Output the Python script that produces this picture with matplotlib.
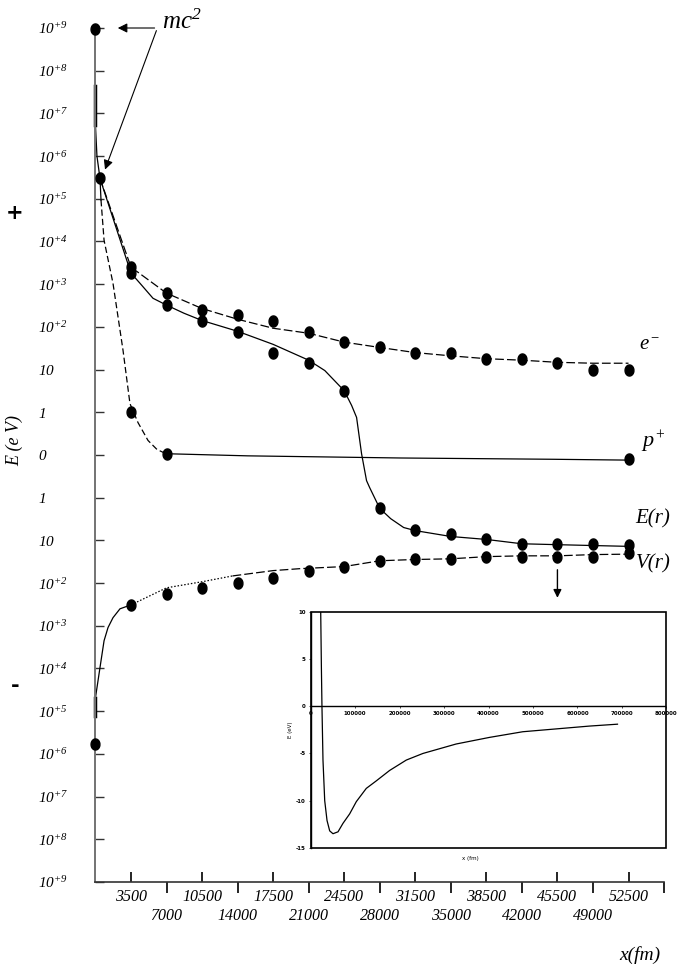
import numpy as np
import matplotlib
matplotlib.use('Agg')
import matplotlib.pyplot as plt
from matplotlib.patches import Rectangle
from matplotlib.ticker import NullLocator

plt.rcParams['font.family'] = 'Liberation Serif'
plt.rcParams['mathtext.fontset'] = 'custom'
plt.rcParams['mathtext.rm'] = 'Liberation Serif:italic'
plt.rcParams['mathtext.it'] = 'Liberation Serif:italic'

# distances in fm, energies in eV (signed)
r_pts = [3500, 7000, 10500, 14000, 17500, 21000, 24500, 28000,
         31500, 35000, 38500, 42000, 45500, 49000, 52500]
e_pts = [2500, 617, 245, 186, 135, 74, 44, 33, 24, 24, 18, 18, 14, 10, 10]
E_pts = [1820, 320, 135, 74, 24, 14, 3.2, -1.78, -5.6, -7.2, -9.5, -12, -12, -12, -13]
V_pts = [-324, -178, -129, -98, -74, -51, -41, -30, -28, -28, -24, -24, -24, -24, -20]
p_r = [3500, 7000, 52500]
p_pts = [1.0, 0.03, -0.1]

# rest mass points on the axis
mc2_r = [0, 450, 0]
mc2_E = [9.38e8, 3.0e5, -6.0e5]

# fitted curves
e_line_r = [450, 3500, 7000, 10500, 14000, 17500, 21000, 24500, 28000,
            31500, 35000, 38500, 42000, 45500, 49000, 52500]
e_line_E = [3.0e5, 2510, 617, 269, 151, 93, 71, 44, 33, 25, 21, 18, 16.6,
            14.8, 14.1, 14.1]

E_line_r = [450, 3500, 4390, 5670, 7000, 8720, 10500, 14000, 17500, 21000,
            22590, 24500, 25230, 25720, 26210, 26700, 27000, 28000, 29080,
            30360, 31500, 35000, 38500, 42000, 45500, 49000, 52500]
E_line_E = [3.0e5, 1820, 1050, 468, 324, 209, 141, 79, 39, 16.6, 9.5, 3.2,
            1.45, 0.88, 0.03, -0.6, -0.76, -1.78, -3.1, -5.0, -5.9, -8.1,
            -9.5, -12, -12.6, -13.2, -13.8]

V_line_r = [0, 0, 450, 850, 1240, 1730, 2420, 3500, 7000, 10500, 13500,
            17500, 20100, 24500, 28000, 31500, 35000, 38500, 42000, 45500,
            49000, 52500]
V_line_E = [-1.29e5, -4.9e4, -9.5e3, -2.24e3, -1.1e3, -646, -400, -324,
            -129, -93, -68, -51, -46, -41, -30, -28, -27, -24, -23, -23,
            -21.5, -21]

p_line_r = [0, 0, 150, 450, 550, 850, 1730, 2720, 3400, 4190, 5180, 6060,
            6950, 15000, 30000, 45000, 52500]
p_line_E = [4.4e7, 5.4e6, 1.0e6, 3.0e5, 9.3e4, 1.07e4, 1050, 28, 1.6, 0.76,
            0.34, 0.13, 0.03, -0.02, -0.07, -0.1, -0.12]

# inset: E(r) on a linear scale
ins_r = [21700, 22500, 24000, 25300, 27600, 31500, 36700, 42700, 50100,
         61400, 72600, 87600, 102600, 125000, 147600, 177500, 215000,
         252400, 327000, 402000, 477000, 552000, 627000, 690000]
ins_E = [11.0, 10.0, 4.2, 0.0, -5.7, -10.0, -12.1, -13.2, -13.5, -13.3,
         -12.4, -11.4, -10.1, -8.7, -7.9, -6.8, -5.7, -5.0, -4.0, -3.3,
         -2.7, -2.4, -2.1, -1.9]

ytick_vals = [1e9, 1e8, 1e7, 1e6, 1e5, 1e4, 1e3, 1e2, 10, 1, 0,
              -1, -10, -1e2, -1e3, -1e4, -1e5, -1e6, -1e7, -1e8, -1e9]
ytick_labels = ['$10^{+9}$', '$10^{+8}$', '$10^{+7}$', '$10^{+6}$',
                '$10^{+5}$', '$10^{+4}$', '$10^{+3}$', '$10^{+2}$',
                '$10$', '$1$', '$0$', '$1$', '$10$',
                '$10^{+2}$', '$10^{+3}$', '$10^{+4}$', '$10^{+5}$',
                '$10^{+6}$', '$10^{+7}$', '$10^{+8}$', '$10^{+9}$']
xmaj = [3500, 10500, 17500, 24500, 31500, 38500, 45500, 52500]
xmin = [7000, 14000, 21000, 28000, 35000, 42000, 49000, 56000]
xmin_labels = ['7000', '14000', '21000', '28000', '35000', '42000', '49000', '']
ins_xticks = [0, 100000, 200000, 300000, 400000, 500000, 600000, 700000, 800000]
ins_yticks = [10, 5, 0, -5, -10, -15]

t = np.linspace(0, 2 * np.pi, 33)
dot = np.column_stack([0.8 * np.cos(t), np.sin(t)])

fig = plt.figure(figsize=(6.92, 9.69), dpi=100)
ax = fig.add_axes([0.1379, 0.0898, 0.8217, 0.8813])
ax.set_yscale('symlog', linthresh=1, linscale=0.9)
ax.set_xlim(0, 56000)
ax.set_ylim(-1e9, 1e9)

lw = 0.9
# e- curve
ax.plot(e_line_r, e_line_E, color='k', lw=lw, dashes=(7, 2.5), clip_on=False)
# E(r) curve
ax.plot(E_line_r, E_line_E, color='k', lw=lw, clip_on=False)
# V(r) curve: solid, dotted, dashed
ax.plot(V_line_r[:2], V_line_E[:2], color='k', lw=2.5, clip_on=False)
ax.plot(V_line_r[1:8], V_line_E[1:8], color='k', lw=lw, clip_on=False)
ax.plot(V_line_r[7:11], V_line_E[7:11], color='k', lw=lw, dashes=(1.2, 1.5))
ax.plot(V_line_r[10:], V_line_E[10:], color='k', lw=lw, dashes=(7, 2.5))
# p+ curve
ax.plot(p_line_r[:2], p_line_E[:2], color='k', lw=2.5, clip_on=False)
ax.plot(p_line_r[1:5], p_line_E[1:5], color='k', lw=lw, clip_on=False)
ax.plot(p_line_r[4:13], p_line_E[4:13], color='k', lw=lw, dashes=(5, 2.5))
ax.plot(p_line_r[12:], p_line_E[12:], color='k', lw=lw)

mk = dict(ls='none', marker=dot, ms=8, color='k', clip_on=False, zorder=5)
ax.plot(r_pts, e_pts, **mk)
ax.plot(r_pts, E_pts, **mk)
ax.plot(r_pts, V_pts, **mk)
ax.plot(p_r, p_pts, **mk)
ax.plot(mc2_r, mc2_E, **mk)

# axes look
for s in ['top', 'right']:
    ax.spines[s].set_visible(False)
ax.spines['left'].set_color('0.45')
ax.spines['left'].set_linewidth(1.4)
ax.spines['bottom'].set_color('0.2')
ax.spines['bottom'].set_linewidth(1.2)

ax.set_yticks(ytick_vals)
ax.set_yticklabels(ytick_labels)
ax.yaxis.set_minor_locator(NullLocator())
ax.tick_params(axis='y', direction='in', length=6.5, width=1, color='0.2',
               labelsize=11, pad=41)
for lbl in ax.get_yticklabels():
    lbl.set_horizontalalignment('left')

ax.set_xticks(xmaj)
ax.set_xticklabels([str(v) for v in xmaj])
ax.set_xticks(xmin, minor=True)
ax.set_xticklabels(xmin_labels, minor=True)
ax.tick_params(axis='x', which='major', direction='in', length=7.5, width=1.2,
               labelsize=11.5, pad=5)
ax.tick_params(axis='x', which='minor', direction='out', length=8, width=1.2,
               labelsize=11.5, pad=11)
for lbl in ax.get_xticklabels() + ax.get_xticklabels(minor=True):
    lbl.set_fontstyle('italic')

# labels and annotations
txt = dict(fontstyle='italic', family='Liberation Serif')
ax.text(53500, 37, '$e^{-}$', fontsize=15, va='center', ha='left')
ax.text(53700, 0.3, '$p^{+}$', fontsize=16, va='center', ha='left')
ax.text(53200, -3.1, 'E(r)', fontsize=15, va='center', ha='left', **txt)
ax.text(53200, -35, 'V(r)', fontsize=15, va='center', ha='left', **txt)
ax.text(6600, 1.4e9, 'mc$^2$', fontsize=18, va='center', ha='left', **txt)

arr = dict(arrowstyle='-|>', color='k', lw=0.8, mutation_scale=14)
ax.annotate('', xy=(1930, 1e9), xytext=(6100, 1e9), arrowprops=arr,
            annotation_clip=False)
ax.annotate('', xy=(850, 4.2e5), xytext=(6100, 1e9), arrowprops=arr,
            annotation_clip=False)
ax.annotate('', xy=(45500, -257), xytext=(45500, -42),
            arrowprops=dict(arrowstyle='-|>', color='k', lw=1, mutation_scale=12))

fig.text(15 / 692, 1 - 213 / 969, '+', fontsize=15, weight='bold',
         family='DejaVu Sans', ha='center', va='center')
fig.text(15 / 692, 1 - 686 / 969, '-', fontsize=15, weight='bold',
         family='DejaVu Sans', ha='center', va='center')
fig.text(15 / 692, 1 - 440 / 969, 'E (e V)', fontsize=13, rotation=90,
         ha='center', va='center', **txt)
fig.text(640 / 692, 1 - 955 / 969, 'x(fm)', fontsize=14, ha='center',
         va='center', **txt)

# inset
ins = fig.add_axes([0.449, 0.125, 0.514, 0.2436])
ins.plot(ins_r, ins_E, color='k', lw=0.9)
ins.axhline(0, color='k', lw=1)
ins.set_xlim(0, 800000)
ins.set_ylim(-15, 10)
ins.spines['bottom'].set_position(('data', 0))
ins.spines['bottom'].set_visible(False)
for s in ['top', 'right']:
    ins.spines[s].set_visible(False)
ins.spines['left'].set_linewidth(1)
ins.add_patch(Rectangle((0, 0), 1, 1, transform=ins.transAxes, fill=False,
                        lw=1.2, edgecolor='k', clip_on=False))
ins.set_xticks(ins_xticks)
ins.set_xticklabels([str(v) for v in ins_xticks])
ins.set_yticks(ins_yticks)
ins.set_yticklabels([str(v) for v in ins_yticks])
ins.tick_params(labelsize=4, length=1.5, width=0.5, pad=2)
for lbl in ins.get_xticklabels() + ins.get_yticklabels():
    lbl.set_family('DejaVu Sans')
    lbl.set_weight('bold')
ins.set_ylabel('E (eV)', fontsize=4, family='DejaVu Sans', labelpad=2)
ins.text(0.45, -0.045, 'x (fm)', fontsize=4, family='DejaVu Sans',
         transform=ins.transAxes, ha='center', va='center')

fig.savefig('out.png', dpi=100)
